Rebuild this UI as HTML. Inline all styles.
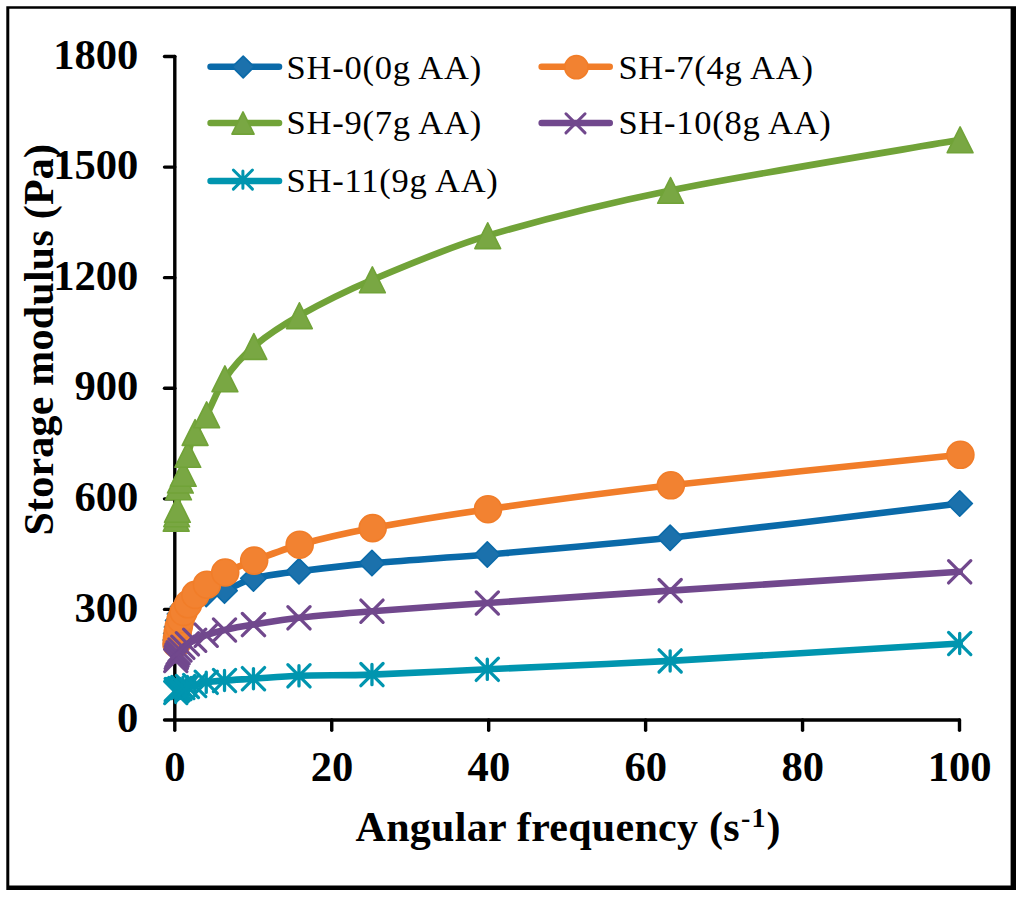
<!DOCTYPE html>
<html lang="en"><head><meta charset="utf-8"><title>Storage modulus vs angular frequency</title>
<style>
html,body{margin:0;padding:0;background:#fff;}
svg{display:block;}
text{font-family:"Liberation Serif",serif;fill:#000;}
.b{font-weight:bold;font-size:42px;}
.lg{font-size:34.5px;}
</style></head><body>
<svg width="1024" height="898" viewBox="0 0 1024 898">
<rect x="0" y="0" width="1024" height="898" fill="#fff"/>
<path fill="#000" fill-rule="evenodd" d="M6.30 6.30 H1016.00 V890.00 H6.30 Z M9.30 8.80 H1010.60 V885.40 H9.30 Z"/>
<g fill="none" stroke="#000" stroke-width="3.40" stroke-linecap="round" stroke-linejoin="round">
<path d="M174.80 56.50 L174.80 730.30"/>
<path d="M164.50 720.00 L959.50 720.00"/>
<path d="M164.50 609.42 L174.80 609.42"/>
<path d="M164.50 498.83 L174.80 498.83"/>
<path d="M164.50 388.25 L174.80 388.25"/>
<path d="M164.50 277.67 L174.80 277.67"/>
<path d="M164.50 167.08 L174.80 167.08"/>
<path d="M164.50 56.50 L174.80 56.50"/>
<path d="M331.74 720.00 L331.74 730.30"/>
<path d="M488.68 720.00 L488.68 730.30"/>
<path d="M645.62 720.00 L645.62 730.30"/>
<path d="M802.56 720.00 L802.56 730.30"/>
<path d="M959.50 720.00 L959.50 730.30"/>
</g>
<g class="b" style="font-size:42.6px">
<text x="138.4" y="732.20" text-anchor="end">0</text>
<text x="138.4" y="621.62" text-anchor="end">300</text>
<text x="138.4" y="511.03" text-anchor="end">600</text>
<text x="138.4" y="400.45" text-anchor="end">900</text>
<text x="138.4" y="289.87" text-anchor="end">1200</text>
<text x="138.4" y="179.28" text-anchor="end">1500</text>
<text x="138.4" y="68.70" text-anchor="end">1800</text>
<text x="175.00" y="781.4" text-anchor="middle">0</text>
<text x="331.94" y="781.4" text-anchor="middle">20</text>
<text x="488.88" y="781.4" text-anchor="middle">40</text>
<text x="645.82" y="781.4" text-anchor="middle">60</text>
<text x="802.76" y="781.4" text-anchor="middle">80</text>
<text x="959.70" y="781.4" text-anchor="middle">100</text>
</g>
<text class="b" transform="translate(53.3 535.6) rotate(-90)" textLength="391.6" lengthAdjust="spacing">Storage modulus (Pa)</text>
<text class="b" x="355.6" y="840.6" textLength="384" lengthAdjust="spacing">Angular frequency (s</text>
<text class="b" x="741.0" y="827.4" style="font-size:28px">-</text>
<text class="b" x="751.6" y="827.4" style="font-size:28px">1</text>
<text class="b" x="766.4" y="840.6">)</text>
<g>
<path d="M175.78 640.00 C175.86 638.92 176.04 635.66 176.24 633.50 C176.44 631.33 176.66 629.16 176.97 627.00 C177.28 624.83 177.63 622.64 178.12 620.50 C178.62 618.33 179.21 616.12 179.95 614.00 C180.74 611.75 181.61 609.17 182.85 607.00 C184.09 604.83 185.48 602.62 187.40 601.00 C189.37 599.33 192.10 597.97 194.70 597.00 C197.83 595.83 202.35 594.83 206.23 594.00 C211.20 592.93 218.63 592.54 224.51 590.60 C232.39 588.00 243.33 581.03 253.47 578.40 C265.88 575.18 283.75 573.27 298.98 571.30 C318.73 568.75 347.58 565.28 371.96 563.10 C403.35 560.30 448.89 557.76 487.31 554.50 C537.01 550.28 609.30 544.37 670.15 537.80 C748.88 529.30 911.44 509.22 959.70 503.50" fill="none" stroke="#0A6AA9" stroke-width="6.60" stroke-linecap="round" stroke-linejoin="round"/>
<path d="M175.78 627.30 L188.48 640.00 L175.78 652.70 L163.08 640.00Z" fill="#1B71AC" stroke="#0A6AA9" stroke-width="1.6" stroke-linejoin="round"/>
<path d="M176.24 620.80 L188.94 633.50 L176.24 646.20 L163.54 633.50Z" fill="#1B71AC" stroke="#0A6AA9" stroke-width="1.6" stroke-linejoin="round"/>
<path d="M176.97 614.30 L189.67 627.00 L176.97 639.70 L164.27 627.00Z" fill="#1B71AC" stroke="#0A6AA9" stroke-width="1.6" stroke-linejoin="round"/>
<path d="M178.12 607.80 L190.82 620.50 L178.12 633.20 L165.42 620.50Z" fill="#1B71AC" stroke="#0A6AA9" stroke-width="1.6" stroke-linejoin="round"/>
<path d="M179.95 601.30 L192.65 614.00 L179.95 626.70 L167.25 614.00Z" fill="#1B71AC" stroke="#0A6AA9" stroke-width="1.6" stroke-linejoin="round"/>
<path d="M182.85 594.30 L195.55 607.00 L182.85 619.70 L170.15 607.00Z" fill="#1B71AC" stroke="#0A6AA9" stroke-width="1.6" stroke-linejoin="round"/>
<path d="M187.40 588.30 L200.10 601.00 L187.40 613.70 L174.70 601.00Z" fill="#1B71AC" stroke="#0A6AA9" stroke-width="1.6" stroke-linejoin="round"/>
<path d="M194.70 584.30 L207.40 597.00 L194.70 609.70 L182.00 597.00Z" fill="#1B71AC" stroke="#0A6AA9" stroke-width="1.6" stroke-linejoin="round"/>
<path d="M206.23 581.30 L218.93 594.00 L206.23 606.70 L193.53 594.00Z" fill="#1B71AC" stroke="#0A6AA9" stroke-width="1.6" stroke-linejoin="round"/>
<path d="M224.51 577.90 L237.21 590.60 L224.51 603.30 L211.81 590.60Z" fill="#1B71AC" stroke="#0A6AA9" stroke-width="1.6" stroke-linejoin="round"/>
<path d="M253.47 565.70 L266.17 578.40 L253.47 591.10 L240.77 578.40Z" fill="#1B71AC" stroke="#0A6AA9" stroke-width="1.6" stroke-linejoin="round"/>
<path d="M298.98 558.60 L311.68 571.30 L298.98 584.00 L286.28 571.30Z" fill="#1B71AC" stroke="#0A6AA9" stroke-width="1.6" stroke-linejoin="round"/>
<path d="M371.96 550.40 L384.66 563.10 L371.96 575.80 L359.26 563.10Z" fill="#1B71AC" stroke="#0A6AA9" stroke-width="1.6" stroke-linejoin="round"/>
<path d="M487.31 541.80 L500.01 554.50 L487.31 567.20 L474.61 554.50Z" fill="#1B71AC" stroke="#0A6AA9" stroke-width="1.6" stroke-linejoin="round"/>
<path d="M670.15 525.10 L682.85 537.80 L670.15 550.50 L657.45 537.80Z" fill="#1B71AC" stroke="#0A6AA9" stroke-width="1.6" stroke-linejoin="round"/>
<path d="M959.70 490.80 L972.40 503.50 L959.70 516.20 L947.00 503.50Z" fill="#1B71AC" stroke="#0A6AA9" stroke-width="1.6" stroke-linejoin="round"/>
</g>
<g>
<path d="M176.48 644.00 C176.56 643.08 176.75 640.33 176.94 638.50 C177.14 636.60 177.36 634.56 177.67 632.60 C177.98 630.58 178.36 628.45 178.82 626.40 C179.32 624.20 179.90 621.69 180.65 619.40 C181.44 617.00 182.38 614.38 183.55 612.00 C184.79 609.48 186.40 606.75 188.10 604.30 C190.07 601.45 192.65 597.76 195.40 594.90 C198.53 591.63 202.83 587.78 206.93 584.70 C211.90 580.97 218.69 575.83 225.21 572.50 C233.09 568.48 244.39 564.25 254.17 560.60 C266.58 555.97 284.18 548.95 299.68 544.70 C319.43 539.28 348.14 532.72 372.66 528.10 C404.05 522.18 449.44 514.74 488.01 509.20 C537.71 502.07 609.79 492.33 670.85 485.30 C749.58 476.23 912.14 459.88 960.40 454.80" fill="none" stroke="#F17D29" stroke-width="6.60" stroke-linecap="round" stroke-linejoin="round"/>
<circle cx="176.48" cy="644.00" r="13.50" fill="#F28231" stroke="#F17D29" stroke-width="1.6"/>
<circle cx="176.94" cy="638.50" r="13.50" fill="#F28231" stroke="#F17D29" stroke-width="1.6"/>
<circle cx="177.67" cy="632.60" r="13.50" fill="#F28231" stroke="#F17D29" stroke-width="1.6"/>
<circle cx="178.82" cy="626.40" r="13.50" fill="#F28231" stroke="#F17D29" stroke-width="1.6"/>
<circle cx="180.65" cy="619.40" r="13.50" fill="#F28231" stroke="#F17D29" stroke-width="1.6"/>
<circle cx="183.55" cy="612.00" r="13.50" fill="#F28231" stroke="#F17D29" stroke-width="1.6"/>
<circle cx="188.10" cy="604.30" r="13.50" fill="#F28231" stroke="#F17D29" stroke-width="1.6"/>
<circle cx="195.40" cy="594.90" r="13.50" fill="#F28231" stroke="#F17D29" stroke-width="1.6"/>
<circle cx="206.93" cy="584.70" r="13.50" fill="#F28231" stroke="#F17D29" stroke-width="1.6"/>
<circle cx="225.21" cy="572.50" r="13.50" fill="#F28231" stroke="#F17D29" stroke-width="1.6"/>
<circle cx="254.17" cy="560.60" r="13.50" fill="#F28231" stroke="#F17D29" stroke-width="1.6"/>
<circle cx="299.68" cy="544.70" r="13.50" fill="#F28231" stroke="#F17D29" stroke-width="1.6"/>
<circle cx="372.66" cy="528.10" r="13.50" fill="#F28231" stroke="#F17D29" stroke-width="1.6"/>
<circle cx="488.01" cy="509.20" r="13.50" fill="#F28231" stroke="#F17D29" stroke-width="1.6"/>
<circle cx="670.85" cy="485.30" r="13.50" fill="#F28231" stroke="#F17D29" stroke-width="1.6"/>
<circle cx="960.40" cy="454.80" r="13.50" fill="#F28231" stroke="#F17D29" stroke-width="1.6"/>
</g>
<g>
<path d="M176.18 518.30 C176.26 517.57 176.45 515.36 176.64 513.90 C176.84 512.42 177.26 510.92 177.37 509.40 C177.68 504.90 178.03 491.78 178.52 486.90 C178.76 484.56 179.58 482.32 180.35 480.10 C181.14 477.85 182.57 475.74 183.25 473.40 C184.49 469.12 185.99 460.66 187.80 454.40 C189.77 447.58 191.96 439.10 195.10 432.50 C198.12 426.14 203.21 420.96 206.63 414.80 C211.60 405.85 217.26 389.87 224.91 378.80 C232.79 367.42 242.84 355.85 253.87 346.50 C266.28 335.98 283.42 324.69 299.38 315.70 C319.13 304.58 347.41 290.40 372.36 279.80 C403.75 266.47 448.28 247.52 487.71 235.70 C537.41 220.80 609.01 202.89 670.55 190.40 C749.28 174.42 911.84 148.23 960.10 139.80" fill="none" stroke="#71A338" stroke-width="6.60" stroke-linecap="round" stroke-linejoin="round"/>
<path d="M176.18 505.40 L189.08 531.20 L163.28 531.20Z" fill="#79A743" stroke="#71A338" stroke-width="1.6" stroke-linejoin="round"/>
<path d="M176.64 501.00 L189.54 526.80 L163.74 526.80Z" fill="#79A743" stroke="#71A338" stroke-width="1.6" stroke-linejoin="round"/>
<path d="M177.37 496.50 L190.27 522.30 L164.47 522.30Z" fill="#79A743" stroke="#71A338" stroke-width="1.6" stroke-linejoin="round"/>
<path d="M178.52 474.00 L191.42 499.80 L165.62 499.80Z" fill="#79A743" stroke="#71A338" stroke-width="1.6" stroke-linejoin="round"/>
<path d="M180.35 467.20 L193.25 493.00 L167.45 493.00Z" fill="#79A743" stroke="#71A338" stroke-width="1.6" stroke-linejoin="round"/>
<path d="M183.25 460.50 L196.15 486.30 L170.35 486.30Z" fill="#79A743" stroke="#71A338" stroke-width="1.6" stroke-linejoin="round"/>
<path d="M187.80 441.50 L200.70 467.30 L174.90 467.30Z" fill="#79A743" stroke="#71A338" stroke-width="1.6" stroke-linejoin="round"/>
<path d="M195.10 419.60 L208.00 445.40 L182.20 445.40Z" fill="#79A743" stroke="#71A338" stroke-width="1.6" stroke-linejoin="round"/>
<path d="M206.63 401.90 L219.53 427.70 L193.73 427.70Z" fill="#79A743" stroke="#71A338" stroke-width="1.6" stroke-linejoin="round"/>
<path d="M224.91 365.90 L237.81 391.70 L212.01 391.70Z" fill="#79A743" stroke="#71A338" stroke-width="1.6" stroke-linejoin="round"/>
<path d="M253.87 333.60 L266.77 359.40 L240.97 359.40Z" fill="#79A743" stroke="#71A338" stroke-width="1.6" stroke-linejoin="round"/>
<path d="M299.38 302.80 L312.28 328.60 L286.48 328.60Z" fill="#79A743" stroke="#71A338" stroke-width="1.6" stroke-linejoin="round"/>
<path d="M372.36 266.90 L385.26 292.70 L359.46 292.70Z" fill="#79A743" stroke="#71A338" stroke-width="1.6" stroke-linejoin="round"/>
<path d="M487.71 222.80 L500.61 248.60 L474.81 248.60Z" fill="#79A743" stroke="#71A338" stroke-width="1.6" stroke-linejoin="round"/>
<path d="M670.55 177.50 L683.45 203.30 L657.65 203.30Z" fill="#79A743" stroke="#71A338" stroke-width="1.6" stroke-linejoin="round"/>
<path d="M960.10 126.90 L973.00 152.70 L947.20 152.70Z" fill="#79A743" stroke="#71A338" stroke-width="1.6" stroke-linejoin="round"/>
</g>
<g>
<path d="M175.78 660.50 C175.86 660.02 176.04 658.48 176.24 657.60 C176.42 656.78 176.67 655.98 176.97 655.20 C177.28 654.39 177.67 653.53 178.12 652.75 C178.62 651.88 179.23 650.83 179.95 650.00 C180.74 649.09 181.83 648.14 182.85 647.30 C184.09 646.27 185.75 644.78 187.40 643.80 C189.37 642.62 192.24 641.37 194.70 640.25 C197.83 638.82 202.26 636.56 206.23 635.20 C211.20 633.49 218.33 631.39 224.51 630.00 C232.39 628.23 243.78 626.19 253.47 624.60 C265.88 622.57 283.74 619.52 298.98 617.80 C318.73 615.57 347.61 613.11 371.96 611.20 C403.35 608.73 448.85 605.66 487.31 603.00 C537.01 599.57 609.19 594.63 670.15 590.60 C748.88 585.40 911.44 574.93 959.70 571.80" fill="none" stroke="#71488D" stroke-width="6.60" stroke-linecap="round" stroke-linejoin="round"/>
<path d="M164.68 649.40 L186.88 671.60 M164.68 671.60 L186.88 649.40" fill="none" stroke="#71488D" stroke-width="3.30" stroke-linecap="round"/>
<path d="M165.14 646.50 L187.34 668.70 M165.14 668.70 L187.34 646.50" fill="none" stroke="#71488D" stroke-width="3.30" stroke-linecap="round"/>
<path d="M165.87 644.10 L188.07 666.30 M165.87 666.30 L188.07 644.10" fill="none" stroke="#71488D" stroke-width="3.30" stroke-linecap="round"/>
<path d="M167.02 641.65 L189.22 663.85 M167.02 663.85 L189.22 641.65" fill="none" stroke="#71488D" stroke-width="3.30" stroke-linecap="round"/>
<path d="M168.85 638.90 L191.05 661.10 M168.85 661.10 L191.05 638.90" fill="none" stroke="#71488D" stroke-width="3.30" stroke-linecap="round"/>
<path d="M171.75 636.20 L193.95 658.40 M171.75 658.40 L193.95 636.20" fill="none" stroke="#71488D" stroke-width="3.30" stroke-linecap="round"/>
<path d="M176.30 632.70 L198.50 654.90 M176.30 654.90 L198.50 632.70" fill="none" stroke="#71488D" stroke-width="3.30" stroke-linecap="round"/>
<path d="M183.60 629.15 L205.80 651.35 M183.60 651.35 L205.80 629.15" fill="none" stroke="#71488D" stroke-width="3.30" stroke-linecap="round"/>
<path d="M195.13 624.10 L217.33 646.30 M195.13 646.30 L217.33 624.10" fill="none" stroke="#71488D" stroke-width="3.30" stroke-linecap="round"/>
<path d="M213.41 618.90 L235.61 641.10 M213.41 641.10 L235.61 618.90" fill="none" stroke="#71488D" stroke-width="3.30" stroke-linecap="round"/>
<path d="M242.37 613.50 L264.57 635.70 M242.37 635.70 L264.57 613.50" fill="none" stroke="#71488D" stroke-width="3.30" stroke-linecap="round"/>
<path d="M287.88 606.70 L310.08 628.90 M287.88 628.90 L310.08 606.70" fill="none" stroke="#71488D" stroke-width="3.30" stroke-linecap="round"/>
<path d="M360.86 600.10 L383.06 622.30 M360.86 622.30 L383.06 600.10" fill="none" stroke="#71488D" stroke-width="3.30" stroke-linecap="round"/>
<path d="M476.21 591.90 L498.41 614.10 M476.21 614.10 L498.41 591.90" fill="none" stroke="#71488D" stroke-width="3.30" stroke-linecap="round"/>
<path d="M659.05 579.50 L681.25 601.70 M659.05 601.70 L681.25 579.50" fill="none" stroke="#71488D" stroke-width="3.30" stroke-linecap="round"/>
<path d="M948.60 560.70 L970.80 582.90 M948.60 582.90 L970.80 560.70" fill="none" stroke="#71488D" stroke-width="3.30" stroke-linecap="round"/>
</g>
<g>
<path d="M175.78 692.50 C175.86 692.03 176.04 690.03 176.24 689.70 C176.42 689.39 176.66 690.53 176.97 690.50 C177.28 690.47 177.70 689.78 178.12 689.50 C178.62 689.17 179.31 688.77 179.95 688.50 C180.74 688.17 181.86 687.76 182.85 687.50 C184.09 687.17 185.87 686.76 187.40 686.50 C189.37 686.17 192.30 686.03 194.70 685.50 C197.83 684.80 202.30 682.96 206.23 682.30 C211.20 681.47 218.41 680.97 224.51 680.50 C232.39 679.90 243.82 679.31 253.47 678.70 C265.88 677.92 283.79 676.33 298.98 675.80 C318.73 675.12 347.65 675.44 371.96 674.60 C403.35 673.52 448.86 671.07 487.31 669.30 C537.01 667.02 609.23 664.23 670.15 660.90 C748.88 656.60 911.44 646.40 959.70 643.50" fill="none" stroke="#0095AF" stroke-width="6.60" stroke-linecap="round" stroke-linejoin="round"/>
<path d="M164.68 681.40 L186.88 703.60 M164.68 703.60 L186.88 681.40 M175.78 682.40 L175.78 702.60" fill="none" stroke="#0095AF" stroke-width="3.30" stroke-linecap="round"/>
<path d="M165.14 678.60 L187.34 700.80 M165.14 700.80 L187.34 678.60 M176.24 679.60 L176.24 699.80" fill="none" stroke="#0095AF" stroke-width="3.30" stroke-linecap="round"/>
<path d="M165.87 679.40 L188.07 701.60 M165.87 701.60 L188.07 679.40 M176.97 680.40 L176.97 700.60" fill="none" stroke="#0095AF" stroke-width="3.30" stroke-linecap="round"/>
<path d="M167.02 678.40 L189.22 700.60 M167.02 700.60 L189.22 678.40 M178.12 679.40 L178.12 699.60" fill="none" stroke="#0095AF" stroke-width="3.30" stroke-linecap="round"/>
<path d="M168.85 677.40 L191.05 699.60 M168.85 699.60 L191.05 677.40 M179.95 678.40 L179.95 698.60" fill="none" stroke="#0095AF" stroke-width="3.30" stroke-linecap="round"/>
<path d="M171.75 676.40 L193.95 698.60 M171.75 698.60 L193.95 676.40 M182.85 677.40 L182.85 697.60" fill="none" stroke="#0095AF" stroke-width="3.30" stroke-linecap="round"/>
<path d="M176.30 675.40 L198.50 697.60 M176.30 697.60 L198.50 675.40 M187.40 676.40 L187.40 696.60" fill="none" stroke="#0095AF" stroke-width="3.30" stroke-linecap="round"/>
<path d="M183.60 674.40 L205.80 696.60 M183.60 696.60 L205.80 674.40 M194.70 675.40 L194.70 695.60" fill="none" stroke="#0095AF" stroke-width="3.30" stroke-linecap="round"/>
<path d="M195.13 671.20 L217.33 693.40 M195.13 693.40 L217.33 671.20 M206.23 672.20 L206.23 692.40" fill="none" stroke="#0095AF" stroke-width="3.30" stroke-linecap="round"/>
<path d="M213.41 669.40 L235.61 691.60 M213.41 691.60 L235.61 669.40 M224.51 670.40 L224.51 690.60" fill="none" stroke="#0095AF" stroke-width="3.30" stroke-linecap="round"/>
<path d="M242.37 667.60 L264.57 689.80 M242.37 689.80 L264.57 667.60 M253.47 668.60 L253.47 688.80" fill="none" stroke="#0095AF" stroke-width="3.30" stroke-linecap="round"/>
<path d="M287.88 664.70 L310.08 686.90 M287.88 686.90 L310.08 664.70 M298.98 665.70 L298.98 685.90" fill="none" stroke="#0095AF" stroke-width="3.30" stroke-linecap="round"/>
<path d="M360.86 663.50 L383.06 685.70 M360.86 685.70 L383.06 663.50 M371.96 664.50 L371.96 684.70" fill="none" stroke="#0095AF" stroke-width="3.30" stroke-linecap="round"/>
<path d="M476.21 658.20 L498.41 680.40 M476.21 680.40 L498.41 658.20 M487.31 659.20 L487.31 679.40" fill="none" stroke="#0095AF" stroke-width="3.30" stroke-linecap="round"/>
<path d="M659.05 649.80 L681.25 672.00 M659.05 672.00 L681.25 649.80 M670.15 650.80 L670.15 671.00" fill="none" stroke="#0095AF" stroke-width="3.30" stroke-linecap="round"/>
<path d="M948.60 632.40 L970.80 654.60 M948.60 654.60 L970.80 632.40 M959.70 633.40 L959.70 653.60" fill="none" stroke="#0095AF" stroke-width="3.30" stroke-linecap="round"/>
</g>
<path d="M210.60 66.80 L279.00 66.80" stroke="#0A6AA9" stroke-width="6.60" stroke-linecap="round" fill="none"/>
<path d="M243.20 55.98 L254.12 66.90 L243.20 77.82 L232.28 66.90Z" fill="#1B71AC" stroke="#0A6AA9" stroke-width="1.6" stroke-linejoin="round"/>
<text class="lg" x="286.60" y="78.50" textLength="194.6" lengthAdjust="spacing">SH-0(0g AA)</text>
<path d="M541.70 66.80 L609.70 66.80" stroke="#F17D29" stroke-width="6.60" stroke-linecap="round" fill="none"/>
<circle cx="576.40" cy="67.20" r="11.61" fill="#F28231" stroke="#F17D29" stroke-width="1.6"/>
<text class="lg" x="618.40" y="78.50" textLength="194.6" lengthAdjust="spacing">SH-7(4g AA)</text>
<path d="M210.60 123.00 L279.00 123.00" stroke="#71A338" stroke-width="6.60" stroke-linecap="round" fill="none"/>
<path d="M243.00 111.91 L254.09 134.09 L231.91 134.09Z" fill="#79A743" stroke="#71A338" stroke-width="1.6" stroke-linejoin="round"/>
<text class="lg" x="286.60" y="134.30" textLength="194.6" lengthAdjust="spacing">SH-9(7g AA)</text>
<path d="M541.70 123.00 L609.70 123.00" stroke="#71488D" stroke-width="6.60" stroke-linecap="round" fill="none"/>
<path d="M565.95 113.75 L585.05 132.85 M565.95 132.85 L585.05 113.75" fill="none" stroke="#71488D" stroke-width="3.00" stroke-linecap="round"/>
<text class="lg" x="618.40" y="134.30" textLength="212.4" lengthAdjust="spacing">SH-10(8g AA)</text>
<path d="M210.60 181.00 L279.00 181.00" stroke="#0095AF" stroke-width="6.60" stroke-linecap="round" fill="none"/>
<path d="M233.35 170.05 L252.45 189.15 M233.35 189.15 L252.45 170.05 M242.90 171.05 L242.90 188.15" fill="none" stroke="#0095AF" stroke-width="3.00" stroke-linecap="round"/>
<text class="lg" x="286.60" y="192.20" textLength="211.2" lengthAdjust="spacing">SH-11(9g AA)</text>
</svg>
</body></html>
